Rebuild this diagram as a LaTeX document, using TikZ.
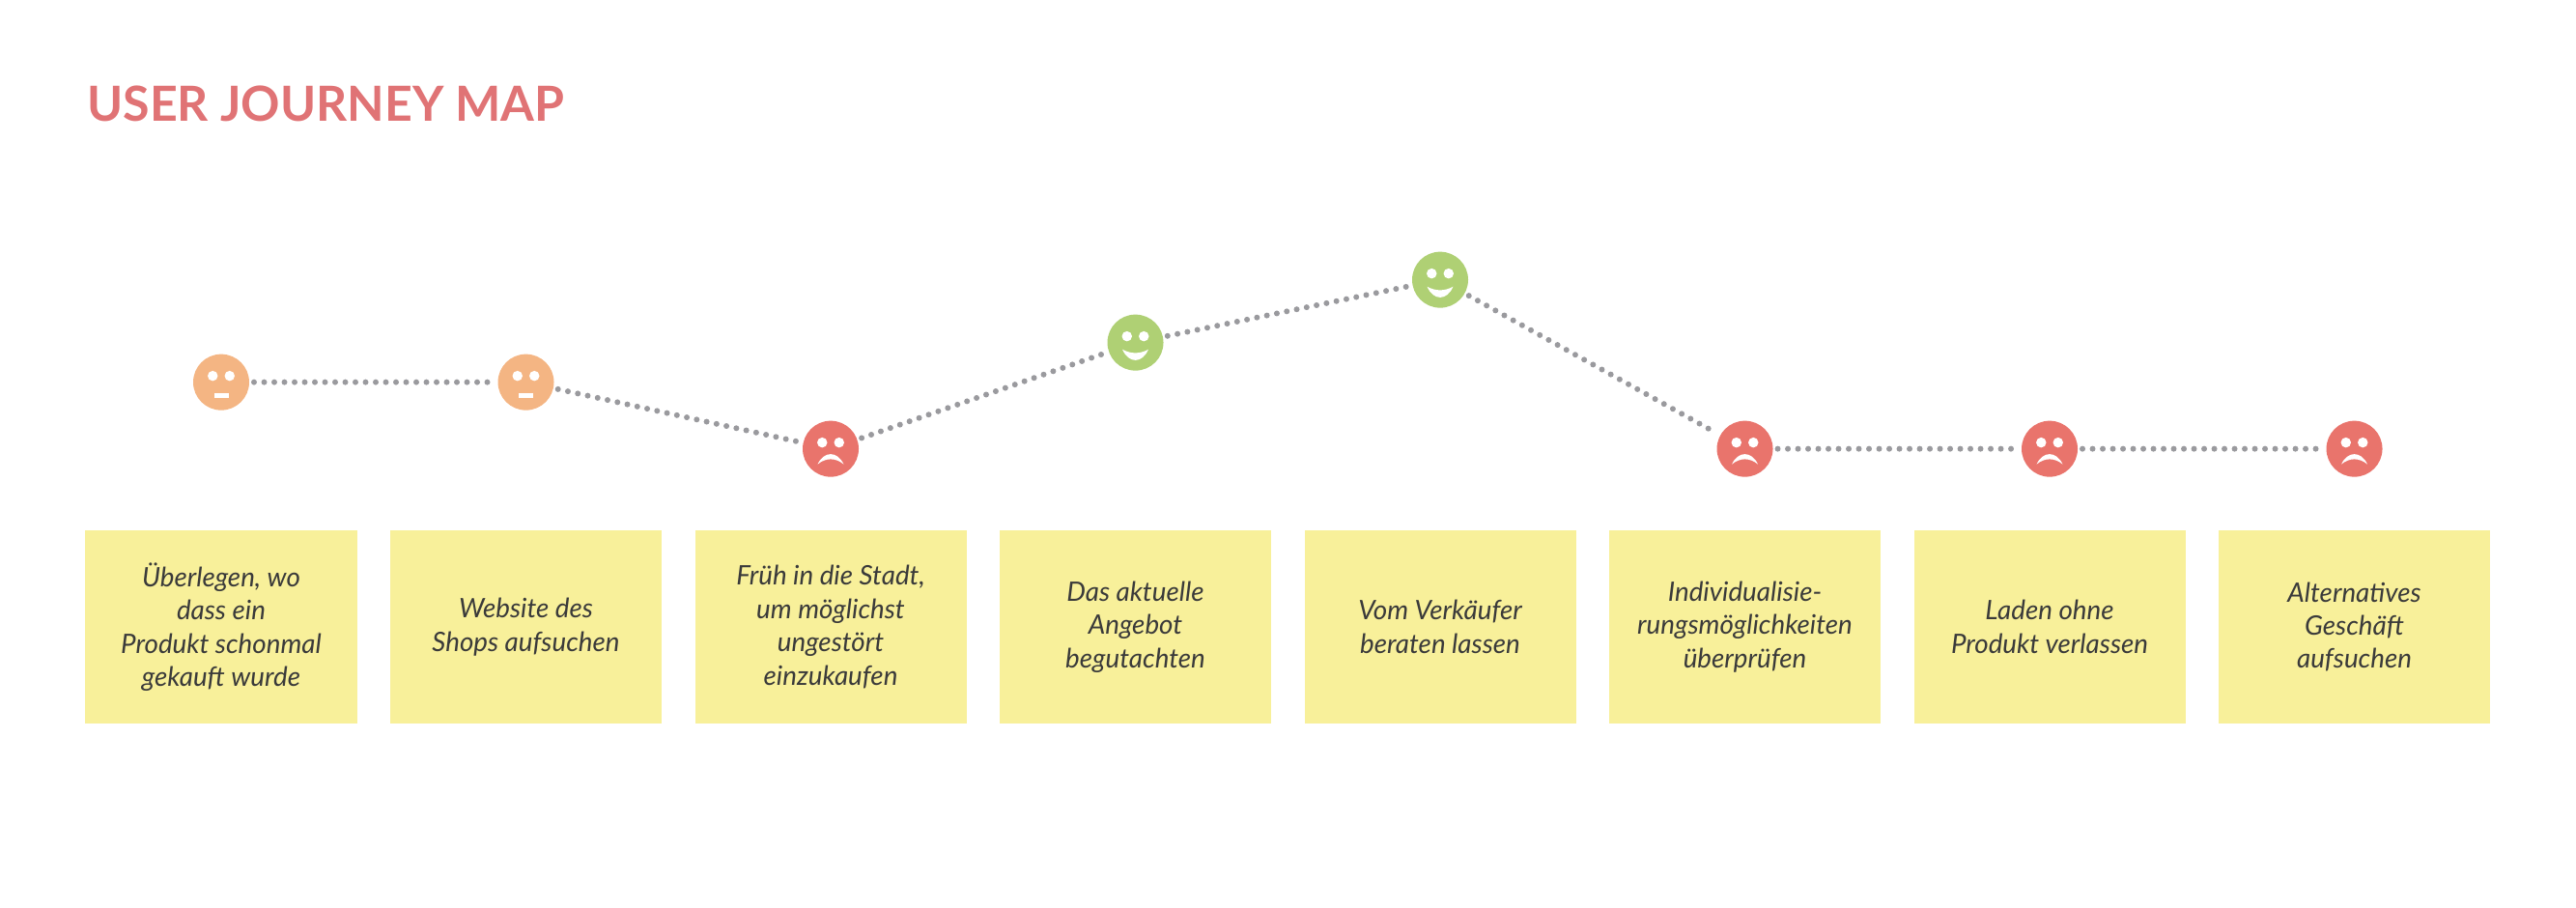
\documentclass[tikz,border=0pt]{standalone}
\usepackage{fontspec}
\setmainfont{Lato}
\usetikzlibrary{positioning}
\definecolor{cnote}{HTML}{F8F09A}
\definecolor{cred}{HTML}{E9746C}
\definecolor{corange}{HTML}{F4B583}
\definecolor{cgreen}{HTML}{AFD074}
\definecolor{ctitle}{HTML}{E07375}
\definecolor{cdots}{HTML}{9A9A9E}
\definecolor{cink}{HTML}{3A3A3A}

\begin{document}
\begin{tikzpicture}[
    node distance=0.676cm,
    note/.style={fill=cnote, minimum width=5.62cm, minimum height=4cm, align=center, inner sep=0pt, text=cink, font=\fontsize{15.8}{19.6}\selectfont\itshape},
    face/.style 2 args={circle, fill=#1, minimum size=1.16cm, inner sep=0pt, outer sep=0.1cm, path picture={
        \begin{scope}[shift=(path picture bounding box.center)]
            \fill[white] (-0.175,0.13) circle (0.105);
            \fill[white] (0.175,0.13) circle (0.105);
            \fill[white] #2;
        \end{scope}
    }},
    plain/.style={face={corange}{(-0.15,-0.33) rectangle (0.15,-0.22)}},
    happy/.style={face={cgreen}{(-0.27,-0.14) .. controls (-0.1,-0.24) and (0.1,-0.24) .. (0.27,-0.14) .. controls (0.14,-0.44) and (-0.14,-0.44) .. cycle}},
    sad/.style={face={cred}{(-0.27,-0.32) .. controls (-0.14,-0.04) and (0.14,-0.04) .. (0.27,-0.32) .. controls (0.1,-0.18) and (-0.1,-0.18) .. cycle}},
    dotline/.style={draw=cdots, line width=0.12cm, line cap=round, dash pattern=on 0pt off 0.21cm}
]

\useasboundingbox (-4.56,12.98) rectangle (48.78,-5.82);

\node[note] (n1) at (0.02,0) {Überlegen, wo\\dass ein\\Produkt schonmal\\gekauft wurde};
\node[note, right=of n1] (n2) {Website des\\Shops aufsuchen};
\node[note, right=of n2] (n3) {Früh in die Stadt,\\um möglichst\\ungestört\\einzukaufen};
\node[note, right=of n3] (n4) {Das aktuelle\\Angebot\\begutachten};
\node[note, right=of n4] (n5) {Vom Verkäufer\\beraten lassen};
\node[note, right=of n5] (n6) {Individualisie-\\rungsmöglichkeiten\\überprüfen};
\node[note, right=of n6] (n7) {Laden ohne\\Produkt verlassen};
\node[note, right=of n7] (n8) {Alternatives\\Geschäft\\aufsuchen};

\node[anchor=west, inner sep=0pt, text=ctitle, font=\fontsize{28.5}{30}\selectfont\bfseries] (title) at (-2.76,10.84) {USER JOURNEY MAP};

\node[plain, above=2.38cm of n1] (f1) {};
\node[plain, above=2.38cm of n2] (f2) {};
\node[sad, above=1cm of n3] (f3) {};
\node[happy, above=3.2cm of n4] (f4) {};
\node[happy, above=4.5cm of n5] (f5) {};
\node[sad, above=1cm of n6] (f6) {};
\node[sad, above=1cm of n7] (f7) {};
\node[sad, above=1cm of n8] (f8) {};

\draw[dotline] (f1) -- (f2);
\draw[dotline] (f2) -- (f3);
\draw[dotline] (f3) -- (f4);
\draw[dotline] (f4) -- (f5);
\draw[dotline] (f5) -- (f6);
\draw[dotline] (f6) -- (f7);
\draw[dotline] (f7) -- (f8);

\end{tikzpicture}
\end{document}
